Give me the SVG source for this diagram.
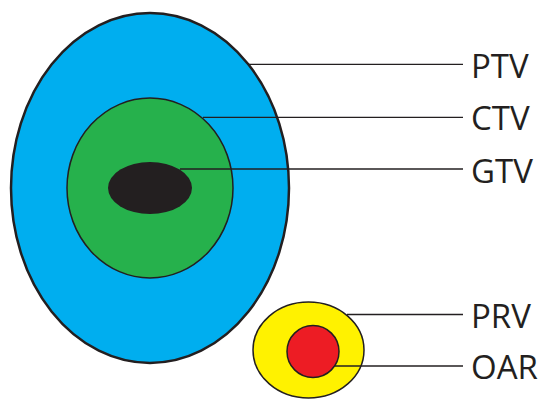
<svg xmlns="http://www.w3.org/2000/svg" width="540" height="400" viewBox="0 0 540 400">
<style>
.o{stroke:#231f20}
.lbl{font-family:"Open Sans","Liberation Sans",sans-serif;font-size:33px;fill:#231f20}
.ln{stroke:#231f20;stroke-width:1.3;fill:none}
</style>
<rect width="540" height="400" fill="#fff"/>
<g id="ptv"><ellipse cx="150" cy="188" rx="139" ry="175" fill="#00aeef" class="o" stroke-width="2.5"/></g>
<g id="ctv"><ellipse cx="150" cy="188" rx="83" ry="90" fill="#26b14c" class="o" stroke-width="1.5"/></g>
<g id="gtv"><ellipse cx="150" cy="188" rx="42" ry="26" fill="#231f20"/></g>
<g id="prv"><ellipse cx="308.5" cy="350" rx="55.5" ry="48" fill="#fff200" class="o" stroke-width="1.5"/></g>
<g id="oar"><circle cx="313" cy="351.5" r="26" fill="#ed1c24" class="o" stroke-width="1.5"/></g>
<g id="connectors">
<line class="ln" x1="248" y1="64.3" x2="463" y2="64.3"/>
<line class="ln" x1="203" y1="117.3" x2="463" y2="117.3"/>
<line class="ln" x1="180" y1="169" x2="463" y2="169"/>
<line class="ln" x1="347" y1="314.5" x2="463" y2="314.5"/>
<line class="ln" x1="335" y1="366" x2="463" y2="366"/>
</g>
<g id="labels">
<text class="lbl" x="471" y="77.5">PTV</text>
<text class="lbl" x="471" y="130">CTV</text>
<text class="lbl" x="471" y="182.5">GTV</text>
<text class="lbl" x="471" y="327.5">PRV</text>
<text class="lbl" x="471" y="378.5">OAR</text>
</g>
</svg>
